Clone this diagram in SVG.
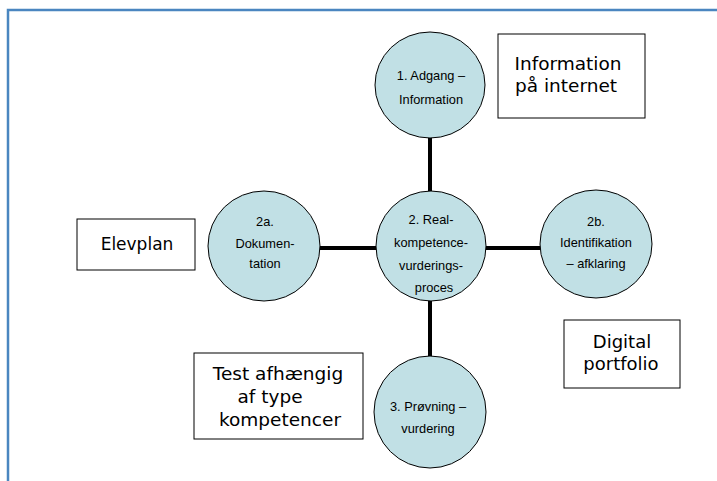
<svg xmlns="http://www.w3.org/2000/svg" width="717" height="481" viewBox="0 0 717 481">
<style>
.frame{fill:none;stroke:#4a86c0;stroke-width:2.5}
.node ellipse{fill:#c1e0e5;stroke:#000;stroke-width:1}
.node text{font-family:"Liberation Sans",Arial,sans-serif;font-size:12.8px;fill:#000;text-anchor:middle}
.box rect{fill:#fff;stroke:#000;stroke-width:1}
.box text{font-family:"DejaVu Sans",Verdana,sans-serif;font-size:18.5px;fill:#000;text-anchor:middle}
.conn line{stroke:#000;stroke-width:4}
</style>
<rect x="0" y="0" width="717" height="481" fill="#fff"/>
<rect class="frame" x="8" y="10" width="720" height="480"/>
<g id="connectors" class="conn">
<line x1="430" y1="137" x2="430" y2="191"/>
<line x1="319" y1="248" x2="376" y2="248"/>
<line x1="486" y1="248" x2="541" y2="248"/>
<line x1="430" y1="300" x2="430" y2="357"/>
</g>
<g id="n1" class="node">
<ellipse cx="430" cy="85" rx="55" ry="53"/>
<text x="431" y="80">1. Adgang –</text>
<text x="431" y="104">Information</text>
</g>
<g id="n2" class="node">
<ellipse cx="431" cy="246" rx="55" ry="55"/>
<text x="431" y="224">2. Real-</text>
<text x="431" y="247">kompetence-</text>
<text x="431" y="270">vurderings-</text>
<text x="434" y="292">proces</text>
</g>
<g id="n2a" class="node">
<ellipse cx="264" cy="246" rx="56" ry="55"/>
<text x="265" y="226">2a.</text>
<text x="265" y="248">Dokumen-</text>
<text x="265" y="268">tation</text>
</g>
<g id="n2b" class="node">
<ellipse cx="596" cy="244" rx="56" ry="54"/>
<text x="596" y="226">2b.</text>
<text x="596" y="247">Identifikation</text>
<text x="596" y="268">– afklaring</text>
</g>
<g id="n3" class="node">
<ellipse cx="430" cy="412" rx="56" ry="56"/>
<text x="428" y="411">3. Prøvning –</text>
<text x="428" y="433">vurdering</text>
</g>
<g id="b1" class="box">
<rect x="498" y="34" width="147" height="84"/>
<text x="568" y="70">Information</text>
<text x="566" y="92">på internet</text>
</g>
<g id="b2" class="box">
<rect x="77" y="219" width="118" height="51"/>
<text x="137" y="250" style="font-size:17px">Elevplan</text>
</g>
<g id="b3" class="box">
<rect x="194" y="353" width="169" height="86"/>
<text x="278" y="380">Test afhængig</text>
<text x="270" y="403">af type</text>
<text x="280" y="426">kompetencer</text>
</g>
<g id="b4" class="box">
<rect x="564" y="320" width="116" height="68"/>
<text x="622" y="348" style="font-size:18px">Digital</text>
<text x="621" y="370" style="font-size:18px">portfolio</text>
</g>
</svg>
